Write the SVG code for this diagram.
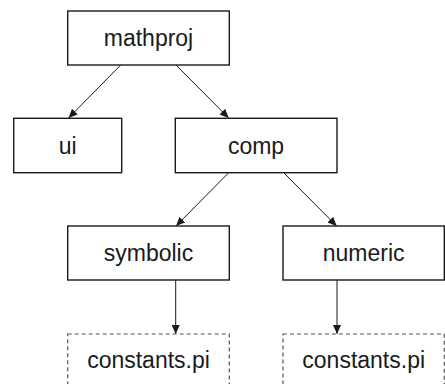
<svg xmlns="http://www.w3.org/2000/svg" width="445" height="384" viewBox="0 0 445 384">
<style>
.box{fill:#fff;stroke:#1a1a1a;stroke-width:1.4}
.dash{fill:#fff;stroke:#555;stroke-width:1.2;stroke-dasharray:4 3}
.lbl{font-family:"Liberation Sans",Arial,sans-serif;font-size:23px;fill:#1a1a1a;text-anchor:middle}
.edge{stroke:#1a1a1a;stroke-width:1;fill:none;marker-end:url(#ah)}
</style>
<defs>
<marker id="ah" markerUnits="userSpaceOnUse" markerWidth="10" markerHeight="8" refX="9" refY="4" orient="auto">
<path d="M0,0 L9,4 L0,8 Z" fill="#1a1a1a"/>
</marker>
</defs>
<rect width="445" height="384" fill="#fff"/>
<g id="edges">
<line class="edge" x1="120.7" y1="65" x2="68.5" y2="118"/>
<line class="edge" x1="176" y1="65" x2="228.7" y2="118"/>
<line class="edge" x1="228.7" y1="172.7" x2="176" y2="226"/>
<line class="edge" x1="283.7" y1="172.7" x2="336.7" y2="226"/>
<line class="edge" x1="175.7" y1="280" x2="175.7" y2="334"/>
<line class="edge" x1="337" y1="280" x2="337" y2="334"/>
</g>
<g id="mathproj"><rect class="box" x="67.7" y="11" width="161.6" height="54"/><text class="lbl" x="148.5" y="46">mathproj</text></g>
<g id="ui"><rect class="box" x="13.7" y="118.3" width="108" height="54.4"/><text class="lbl" x="67.7" y="154">ui</text></g>
<g id="comp"><rect class="box" x="175.3" y="118.3" width="161.7" height="54.4"/><text class="lbl" x="256" y="154">comp</text></g>
<g id="symbolic"><rect class="box" x="67.7" y="226" width="161.6" height="54"/><text class="lbl" x="148.5" y="261">symbolic</text></g>
<g id="numeric"><rect class="box" x="283" y="226" width="161.3" height="54"/><text class="lbl" x="363.7" y="261">numeric</text></g>
<g id="constants1"><rect class="dash" x="67.7" y="334" width="161.6" height="60"/><text class="lbl" x="148.5" y="368">constants.pi</text></g>
<g id="constants2"><rect class="dash" x="283" y="334" width="161.3" height="60"/><text class="lbl" x="363.7" y="368">constants.pi</text></g>
</svg>
